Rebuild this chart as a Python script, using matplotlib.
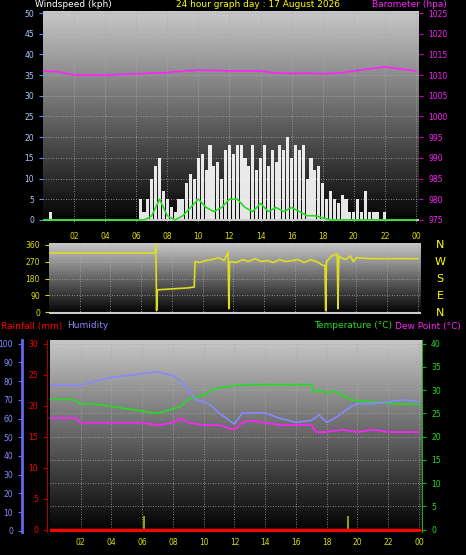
import numpy as np
import matplotlib
matplotlib.use("Agg")
import matplotlib.pyplot as plt
from matplotlib.colors import LinearSegmentedColormap

# ---------------- data ----------------
gust_t = [i * 0.25 for i in range(97)]
gust = ([0, 0, 2] + [0] * 22 +
        [5, 2, 5, 10, 13, 15, 7, 5, 3, 2, 5, 5, 9, 11, 10, 15, 16, 12, 18, 13, 14, 10, 17,
         18, 16, 18, 18, 15, 13, 18, 12, 15, 18, 13, 17, 14, 18, 17, 20, 15, 18, 17, 18,
         10, 15, 12, 13, 9, 5, 7, 5, 4, 6, 5, 2, 2, 5, 2, 7, 2, 2, 2, 0, 2] + [0] * 8)
mean_t = [0, 6.5, 6.8, 7.0, 7.5, 8.0, 8.5, 9.0, 9.5, 10.0, 10.5, 11.0, 11.5, 12.0, 12.5, 13.0,
          13.5, 14.0, 14.5, 15.0, 15.5, 16.0, 16.5, 17.0, 17.5, 18.0, 18.5, 24]
mean_w = [0, 0, 0.5, 1, 5, 1, 0, 1, 3, 5, 3, 2, 3, 5, 5, 3, 2, 4, 2, 3, 2, 3, 2, 1, 1, 0.5, 0, 0]
baro_t = list(range(25))
baro = [1011, 1010.8, 1010, 1010, 1010, 1010.2, 1010.3, 1010.5, 1010.6, 1011, 1011.2, 1011.1,
        1011, 1011, 1011, 1010.5, 1010.4, 1010.5, 1010.3, 1010.5, 1011, 1011.5, 1012, 1011.5, 1011]

dir_t = [0, 6.9, 6.95, 7.0, 7.05, 8, 9, 9.45, 9.5, 9.8, 10.2, 10.6, 11.0, 11.4, 11.65, 11.7, 11.75,
         12.2, 12.6, 13.0, 13.4, 13.8, 14.2, 14.6, 15.0, 15.4, 15.8, 16.2, 16.6, 17.0, 17.4, 17.8,
         17.95, 18.0, 18.05, 18.4, 18.75, 18.8, 18.85, 19.0, 19.3, 19.6, 19.8, 20.0, 21.0, 24]
wdir = [315, 315, 360, 10, 120, 125, 130, 135, 270, 265, 275, 280, 290, 275, 320, 20, 270,
        265, 280, 270, 285, 270, 275, 265, 280, 270, 275, 280, 265, 280, 270, 250,
        250, 10, 270, 300, 310, 20, 300, 290, 280, 300, 270, 290, 285, 285]

temp_t = [0, 1.5, 2, 3, 4, 5, 6, 7, 8, 8.5, 9, 10, 10.5, 11, 12, 13, 16, 17, 17.2, 17.5, 18,
          18.5, 19, 19.5, 20, 21, 22, 23, 24]
temp = [28, 28, 27, 27, 26.5, 26, 25.5, 25, 26, 26.5, 28, 29, 30, 30.5, 31, 31.2, 31.2, 31.2,
        29.5, 30, 29.5, 29.8, 29, 28, 27.7, 27.5, 27.2, 27, 27]
hum_t = [0, 1, 2, 3, 4, 5, 6, 7, 8, 8.5, 9, 9.5, 10, 10.5, 11, 11.5, 12, 12.5, 13, 14, 15, 16,
         17, 17.5, 18, 18.5, 19, 19.5, 20, 21, 22, 23, 24]
hum = [78, 78, 78, 80, 82, 83, 84, 85, 83, 80, 75, 70, 69, 67, 63, 60, 57, 63, 63, 63, 60, 58,
       59, 62, 58, 60, 63, 66, 68, 68, 69, 70, 69]
dew_t = [0, 1.7, 2, 4, 6, 7, 8, 8.5, 9, 10, 11, 11.5, 12, 12.5, 13, 14, 15, 16, 17, 17.3, 18,
         19, 20, 21, 22, 23, 24]
dew = [24, 24, 23, 23, 23, 22.5, 23, 24, 23, 22.5, 22.5, 22, 21.5, 23, 23.5, 23, 22.5, 22.5,
       22.5, 21, 21, 21.5, 21, 21.5, 21, 21, 21]
rain_t = [0, 24]
rain = [0, 0]
mark_t = [6.1, 19.4]
mark_h = [3, 3]

xt = list(range(2, 25, 2))
xtl = ["02", "04", "06", "08", "10", "12", "14", "16", "18", "20", "22", "00"]

# ---------------- figure ----------------
W, H = 466, 555
fig = plt.figure(figsize=(W / 100, H / 100), dpi=100, facecolor="black")
plt.rcParams['font.family'] = ['DejaVu Sans']
cmap = LinearSegmentedColormap.from_list("g", ["#c8c8c8", "#000000"])
FS = 5.5

def px_axes(x0, y0, x1, y1):
    return fig.add_axes([x0 / W, 1 - y1 / H, (x1 - x0) / W, (y1 - y0) / H])

def style(ax, ygrid):
    ax.set_facecolor("black")
    grad = np.linspace(0, 1, 256).reshape(-1, 1)
    ax.imshow(grad, cmap=cmap, aspect="auto", extent=[0, 1, 0, 1],
              transform=ax.transAxes, zorder=0)
    for v in xt:
        ax.axvline(v, color="#aaaaaa", lw=0.6, ls=(0, (1, 2)), zorder=1)
    for v in ygrid:
        ax.axhline(v, color="#aaaaaa", lw=0.6, ls=(0, (1, 2)), zorder=1)
    for s in ax.spines.values():
        s.set_visible(False)
    ax.set_xlim(0, 24.2)

# top panel
ax1 = px_axes(43, 11, 419, 224)
style(ax1, range(5, 51, 5))
ax1.set_ylim(-1, 50.5)
ax1.bar(gust_t, gust, width=0.2, color="white", alpha=0.9, zorder=2)
ax1.plot(mean_t, mean_w, color="#22dd22", lw=1.2, zorder=3)
ax1.axhline(0, color="#cccccc", lw=1.5, zorder=2)
ax1.set_yticks(range(0, 51, 5))
ax1.tick_params(axis="y", colors="#6688ff", labelsize=FS, length=3, labelcolor="#aaccff")
ax1.set_xticks(xt)
ax1.set_xticklabels(xtl)
ax1.tick_params(axis="x", colors="#dddd00", labelsize=FS, length=0, pad=6)
ax1b = ax1.twinx()
ax1b.set_xlim(0, 24.2)
ax1b.set_ylim(974, 1025.5)
ax1b.plot(baro_t, baro, color="#ff22ff", lw=1.2)
ax1b.set_yticks(range(975, 1026, 5))
ax1b.tick_params(axis="y", colors="#cc00cc", labelsize=FS, length=3, labelcolor="#ff22ff")
for s in ax1b.spines.values():
    s.set_visible(False)

fig.text(35 / W, 1 - 4.5 / H, "Windspeed (kph)", color="white", fontsize=6.5, va="center")
fig.text(258 / W, 1 - 4.5 / H, "24 hour graph day : 17 August 2026", color="yellow",
         fontsize=6.5, va="center", ha="center")
fig.text(372 / W, 1 - 4.5 / H, "Barometer (hpa)", color="#ff22ff", fontsize=6.5, va="center")

# middle panel
ax2 = px_axes(49, 243, 421, 314)
style(ax2, [90, 180, 270])
ax2.set_ylim(-8, 368)
ax2.plot(dir_t, wdir, color="#dddd22", lw=1.2, zorder=3)
ax2.axhline(-4, color="#cccccc", lw=1.5, zorder=2)
ax2.set_yticks([0, 90, 180, 270, 360])
ax2.tick_params(axis="y", colors="#dddd00", labelsize=FS, length=3)
ax2.set_xticks(xt)
ax2.tick_params(axis="x", length=0, labelbottom=False)
for i, c in enumerate("NWSEN"):
    fig.text(440 / W, 1 - (245 + i * 17) / H, c, color="yellow", fontsize=8,
             ha="center", va="center")

fig.text(1 / W, 1 - 326 / H, "Rainfall (mm)", color="red", fontsize=6.5, va="center")
fig.text(67 / W, 1 - 326 / H, "Humidity", color="#8888ff", fontsize=6.5, va="center")
fig.text(392 / W, 1 - 326 / H, "Temperature (°C)", color="#22dd22", fontsize=6.5,
         va="center", ha="right")
fig.text(395 / W, 1 - 326 / H, "Dew Point (°C)", color="#ff22ff", fontsize=6.5, va="center")

# bottom panel
ax3 = px_axes(50, 340, 422, 532)
style(ax3, range(5, 41, 5))
ax3.set_ylim(-0.5, 40.8)
ax3.bar(mark_t, mark_h, width=0.1, color="#999900", zorder=3)
ax3.plot(temp_t, temp, color="#22dd22", lw=1.2, zorder=3)
ax3.plot(dew_t, dew, color="#ff22ff", lw=1.2, zorder=3)
ax3.set_xticks(xt)
ax3.set_xticklabels(xtl)
ax3.tick_params(axis="x", colors="#dddd00", labelsize=FS, length=0, pad=4)

axh = ax3.twinx()
axh.set_xlim(0, 24.2)
axh.set_ylim(-100 / 80 * 0.5, 100 + 100 / 40 * 0.8)
axh.plot(hum_t, hum, color="#8888ff", lw=1.2, zorder=3)
axh.yaxis.tick_left()
axh.spines["left"].set_visible(True)
axh.spines["left"].set_position(("outward", 20))
axh.spines["left"].set_color("#6666ee")
axh.spines["left"].set_linewidth(2)
for k in ["right", "top", "bottom"]:
    axh.spines[k].set_visible(False)
axh.set_yticks(range(0, 101, 10))
axh.tick_params(axis="y", colors="#6666ee", labelsize=FS, length=3, labelcolor="#8888ff",
                left=True, labelleft=True, right=False, labelright=False)

axr = ax3.twinx()
axr.set_xlim(0, 24.2)
axr.set_ylim(-30 / 40 * 0.5, 30 + 30 / 40 * 0.8)
axr.plot(rain_t, rain, color="red", lw=2.5, zorder=4)
axr.yaxis.tick_left()
axr.spines["left"].set_visible(True)
axr.spines["left"].set_position(("outward", 2))
axr.spines["left"].set_color("#aa0000")
for k in ["right", "top", "bottom"]:
    axr.spines[k].set_visible(False)
axr.set_yticks(range(0, 31, 5))
axr.tick_params(axis="y", colors="#aa0000", labelsize=FS, length=3, labelcolor="red",
                left=True, labelleft=True, right=False, labelright=False)

ax3.yaxis.tick_right()
ax3.set_yticks(range(0, 41, 5))
ax3.tick_params(axis="y", colors="#22aa22", labelsize=FS, length=3, labelcolor="#22dd22",
                left=False, labelleft=False, right=True, labelright=True)
ax3.spines["right"].set_visible(True)
ax3.spines["right"].set_color("#22aa22")
ax3.spines["left"].set_visible(False)

fig.savefig("out.png", dpi=100, facecolor="black")
